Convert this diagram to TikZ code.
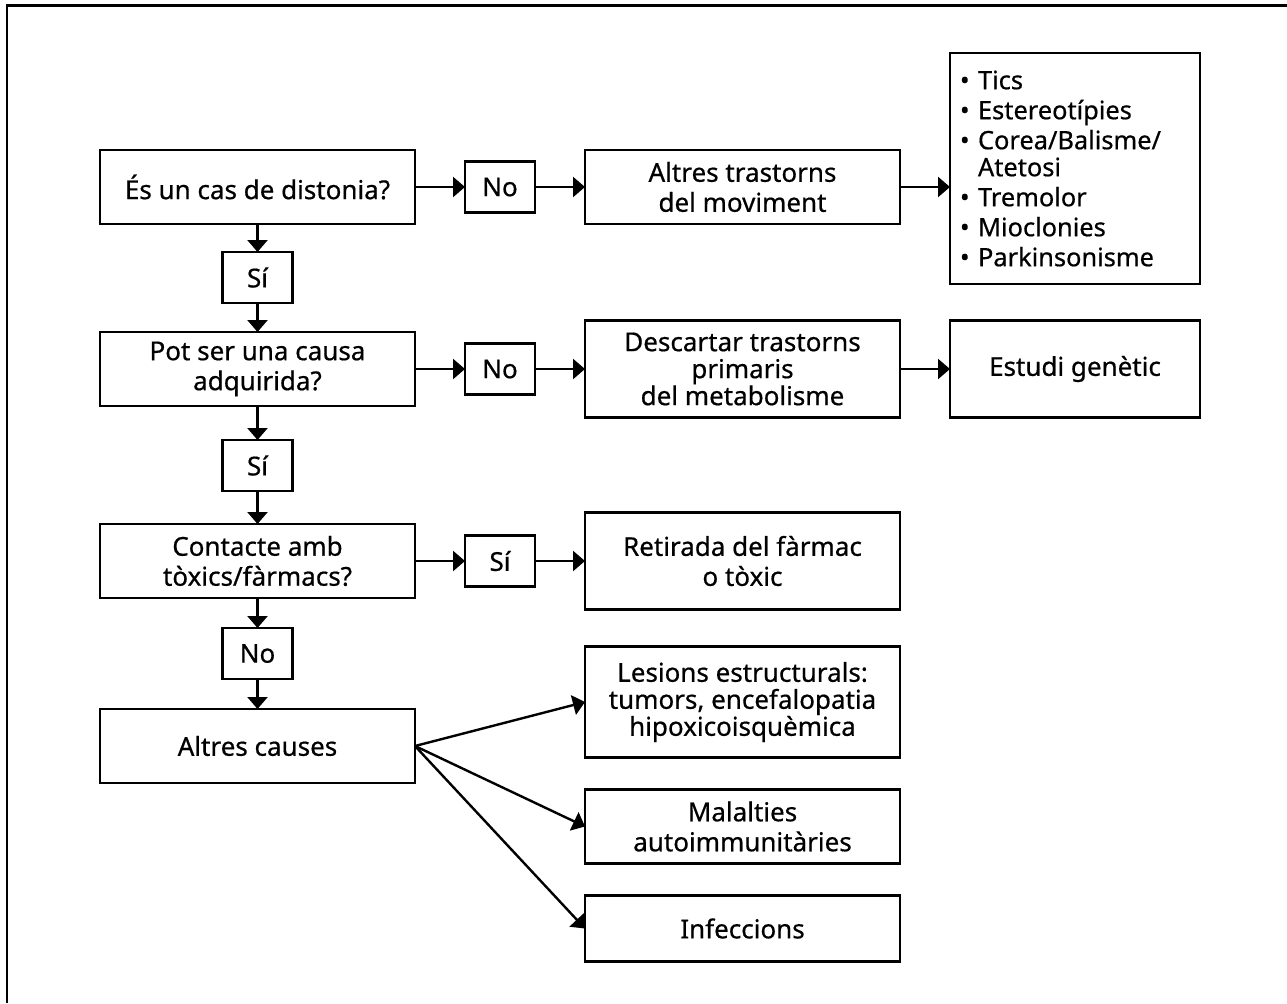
\documentclass[tikz,border=0pt]{standalone}
\usepackage{fontspec}
\setmainfont{Noto Sans}[FakeBold=0.6]
\usetikzlibrary{positioning,arrows.meta}

\begin{document}
\begin{tikzpicture}[->,>={Triangle[length=6pt,width=10pt]},line width=1.2pt,node distance=25pt,
    every node/.style={font=\fontsize{13}{15}\selectfont},
    box/.style={draw,rectangle,align=center,minimum width=157.5pt,minimum height=37pt,inner sep=0pt,outer sep=0pt},
    tag/.style={draw,rectangle,minimum width=35pt,minimum height=25.5pt,inner sep=0pt,outer sep=0pt},
    side/.style={box,minimum width=125pt,minimum height=48.5pt}]
        \useasboundingbox (0,0) rectangle (643.5pt,-501.5pt);
        \draw[-] (3.5pt,-501.5pt) |- (643.5pt,-2.75pt);

        % main column
        \node[box] (q_dist) at (128.75pt,-93.5pt) {És un cas de distonia?};
        \node[tag] (q_si1) [below=14pt of q_dist] {Sí};
        \node[box] (q_adq) [below=14.5pt of q_si1] {Pot ser una causa\\adquirida?};
        \node[tag] (q_si2) [below=17pt of q_adq] {Sí};
        \node[box] (q_tox) [below=16.5pt of q_si2] {Contacte amb\\tòxics/fàrmacs?};
        \node[tag] (q_no3) [below=15pt of q_tox] {No};
        \node[box] (q_altres) [below=15pt of q_no3] {Altres causes};

        % right side
        \node[tag] (q_no1) [right=of q_dist] {No};
        \node[box] (q_mov) [right=of q_no1] {Altres trastorns\\del moviment};
        \node[side,minimum height=115.5pt,text width=115pt,align=left,inner xsep=5pt,
              font=\fontsize{12.7}{13.5}\selectfont] (q_llista) [right=of q_mov, yshift=9.25pt] {%
          \textbullet\ Tics\\[1.5pt]
          \textbullet\ Estereotípies\\[1.5pt]
          \textbullet\ Corea/Balisme/\\
          \hphantom{\textbullet\ }Atetosi\\[1.5pt]
          \textbullet\ Tremolor\\[1.5pt]
          \textbullet\ Mioclonies\\[1.5pt]
          \textbullet\ Parkinsonisme};
        \node[tag] (q_no2) [right=of q_adq] {No};
        \node[box,minimum height=48.5pt,font=\fontsize{13}{13.5}\selectfont] (q_met) [right=of q_no2] {Descartar trastorns\\primaris\\del metabolisme};
        \node[side] (q_gen) [right=of q_met] {Estudi genètic};
        \node[tag] (q_si3) [right=of q_tox] {Sí};
        \node[box,minimum height=48.5pt] (q_ret) [right=of q_si3] {Retirada del fàrmac\\o tòxic};
        \node[box,minimum height=55.5pt,font=\fontsize{13}{13.5}\selectfont] (q_les) [below=18.5pt of q_ret] {Lesions estructurals:\\tumors, encefalopatia\\hipoxicoisquèmica};
        \node[box] (q_auto) [below=16pt of q_les] {Malalties\\autoimmunitàries};
        \node[box,minimum height=33pt] (q_inf) [below=16pt of q_auto] {Infeccions};

        \path (q_dist) edge (q_si1)
        (q_si1) edge (q_adq)
        (q_adq) edge (q_si2)
        (q_si2) edge (q_tox)
        (q_tox) edge (q_no3)
        (q_no3) edge (q_altres)
        (q_dist) edge (q_no1)
        (q_no1) edge (q_mov)
        (q_mov.east) edge (q_mov.east -| q_llista.west)
        (q_adq) edge (q_no2)
        (q_no2) edge (q_met)
        (q_met) edge (q_gen)
        (q_tox) edge (q_si3)
        (q_si3) edge (q_ret)
        (q_altres.east) edge (q_les.west)
        (q_altres.east) edge (q_auto.west)
        (q_altres.east) edge (q_inf.west);
      \end{tikzpicture}
\end{document}
